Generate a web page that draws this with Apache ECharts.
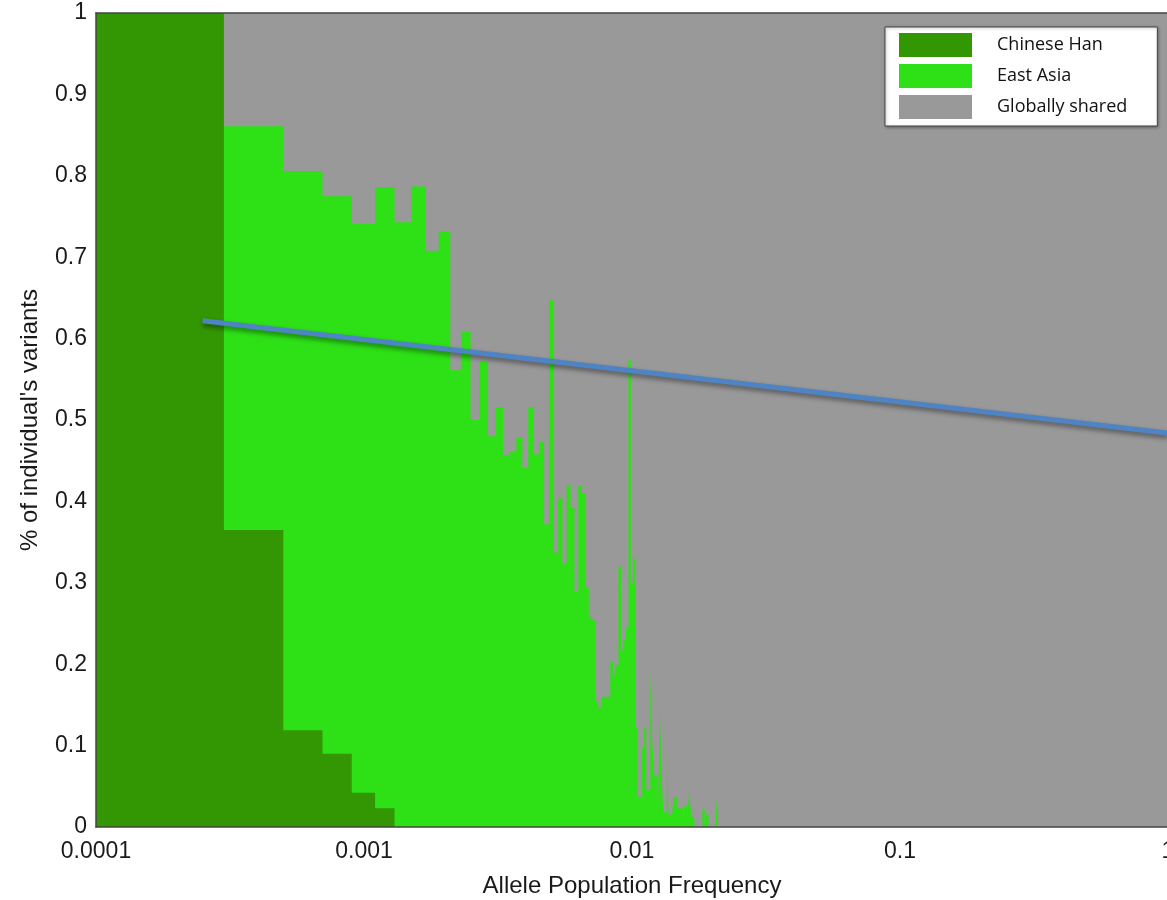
<!DOCTYPE html>
<html>
<head>
<meta charset="utf-8">
<script src="https://cdn.jsdelivr.net/npm/echarts@6/dist/echarts.min.js"></script>
<style>
  html, body { margin: 0; padding: 0; background: #ffffff; }
  #chart { width: 1167px; height: 900px; }
</style>
</head>
<body>
<div id="chart"></div>
<script>
// Allele-frequency bins: 0.0002 wide, the first one starting at 0.0001
const firstBinEdge = 0.0001;
const binWidth = 0.0002;

const seriesNames = ['Chinese Han', 'East Asia', 'Globally shared'];

// Share of an individual's variants in each bin that are Chinese Han specific
const chineseHan = [1.0, 0.365, 0.119, 0.090, 0.042, 0.023];

// Share of an individual's variants in each bin that are East Asia specific
const eastAsia = [
  0.000, 0.496, 0.687, 0.685, 0.699, 0.763, 0.743, 0.787, 0.708, 0.732,
  0.561, 0.608, 0.500, 0.572, 0.480, 0.516, 0.457, 0.461, 0.479, 0.441,
  0.516, 0.458, 0.473, 0.372, 0.647, 0.337, 0.404, 0.324, 0.420, 0.392,
  0.289, 0.419, 0.410, 0.294, 0.258, 0.254, 0.154, 0.146, 0.160, 0.160,
  0.160, 0.203, 0.187, 0.199, 0.320, 0.217, 0.230, 0.246, 0.574, 0.300,
  0.330, 0.122, 0.037, 0.037, 0.097, 0.123, 0.045, 0.045, 0.193, 0.103,
  0.064, 0.064, 0.018, 0.144, 0.061, 0.018, 0.018, 0.090, 0.015, 0.015,
  0.015, 0.037, 0.037, 0.023, 0.023, 0.023, 0.023, 0.005, 0.027, 0.027,
  0.012, 0.042, 0.027, 0.012, 0.012, 0.000, 0.000, 0.000, 0.000, 0.000,
  0.000, 0.021, 0.021, 0.000, 0.015, 0.015, 0.000, 0.000, 0.000, 0.000,
  0.000, 0.000, 0.000, 0.035
];

// Linear trend of the shared fraction across frequency
const trendFreq = [0.00025, 1];
const trendShare = [0.622, 0.484];

const xTickLabels = ['0.0001', '0.001', '0.01', '0.1', '1'];
const xMin = 0.0001, xMax = 1;

const colors = { han: '#339703', asia: '#2de116', global: '#999999', trend: '#4f84c4' };

function binEdge(i) {
  return +(firstBinEdge + binWidth * i).toPrecision(6);
}

// Step outline: one point per bin start, closed at the end of the last bin
function stepPoints(values) {
  const pts = values.map((v, i) => [binEdge(i), v]);
  pts.push([binEdge(values.length), 0]);
  return pts;
}

const hanPoints = stepPoints(chineseHan);
const asiaPoints = stepPoints(eastAsia.map((v, i) => v + (chineseHan[i] || 0)));
const globalPoints = [[xMin, 1], [xMax, 1]];
const trendPoints = trendFreq.map((f, i) => [f, trendShare[i]]);

const labelFont = 'Liberation Sans, Arial, Helvetica, sans-serif';

function areaSeries(name, data, color, z) {
  return {
    name: name,
    type: 'line',
    step: 'end',
    data: data,
    z: z,
    showSymbol: false,
    silent: true,
    color: color,
    itemStyle: { color: color },
    lineStyle: { width: 0, color: color },
    areaStyle: { color: color, opacity: 1, origin: 'start' }
  };
}

const chart = echarts.init(document.getElementById('chart'), null, { renderer: 'canvas' });

chart.setOption({
  animation: false,
  backgroundColor: '#ffffff',
  grid: {
    left: 96, top: 13, width: 1072, height: 814,
    containLabel: false,
    outerBoundsMode: 'none'
  },
  legend: {
    data: seriesNames,
    orient: 'vertical',
    left: 885,
    top: 27,
    padding: [6, 30, 7, 14],
    itemWidth: 73,
    itemHeight: 24,
    itemGap: 7,
    icon: 'rect',
    selectedMode: false,
    backgroundColor: '#ffffff',
    borderColor: '#444444',
    borderWidth: 1,
    shadowColor: 'rgba(0,0,0,0.35)',
    shadowBlur: 3,
    shadowOffsetX: 1,
    shadowOffsetY: 1,
    textStyle: {
      fontFamily: 'Open Sans, sans-serif',
      fontSize: 18,
      color: '#111111',
      padding: [0, 0, 0, 20]
    }
  },
  xAxis: [
    {
      type: 'log',
      logBase: 10,
      min: xMin,
      max: xMax,
      position: 'bottom',
      z: 6,
      name: 'Allele Population Frequency',
      nameLocation: 'middle',
      nameGap: 47,
      nameTextStyle: { fontFamily: labelFont, fontSize: 24, color: '#1a1a1a' },
      axisLine: { show: true, lineStyle: { color: '#444444', width: 1.5 } },
      axisTick: { show: false },
      splitLine: { show: false },
      axisLabel: {
        fontFamily: labelFont,
        fontSize: 23,
        color: '#1a1a1a',
        margin: 13,
        showMaxLabel: true,
        formatter: function (v) {
          return xTickLabels[Math.round(Math.log10(v)) + 4];
        }
      }
    },
    {
      type: 'log',
      logBase: 10,
      min: xMin,
      max: xMax,
      position: 'top',
      z: 6,
      axisLine: { show: true, lineStyle: { color: '#444444', width: 1.5 } },
      axisTick: { show: false },
      axisLabel: { show: false },
      splitLine: { show: false }
    }
  ],
  yAxis: {
    type: 'value',
    min: 0,
    max: 1,
    interval: 0.1,
    z: 6,
    name: "% of individual's variants",
    nameLocation: 'middle',
    nameGap: 54,
    nameRotate: 90,
    nameTextStyle: { fontFamily: labelFont, fontSize: 24, color: '#1a1a1a' },
    axisLine: { show: true, lineStyle: { color: '#444444', width: 1.5 } },
    axisTick: { show: false },
    splitLine: { show: false },
    axisLabel: { fontFamily: labelFont, fontSize: 23, color: '#1a1a1a', margin: 9 }
  },
  series: [
    areaSeries('Globally shared', globalPoints, colors.global, 1),
    areaSeries('East Asia', asiaPoints, colors.asia, 2),
    areaSeries('Chinese Han', hanPoints, colors.han, 3),
    {
      name: 'Trend',
      type: 'line',
      data: trendPoints,
      z: 4,
      showSymbol: false,
      silent: true,
      lineStyle: {
        color: colors.trend,
        width: 5,
        shadowColor: 'rgba(0,0,0,0.45)',
        shadowBlur: 5,
        shadowOffsetY: 3
      }
    }
  ]
});
</script>
</body>
</html>
